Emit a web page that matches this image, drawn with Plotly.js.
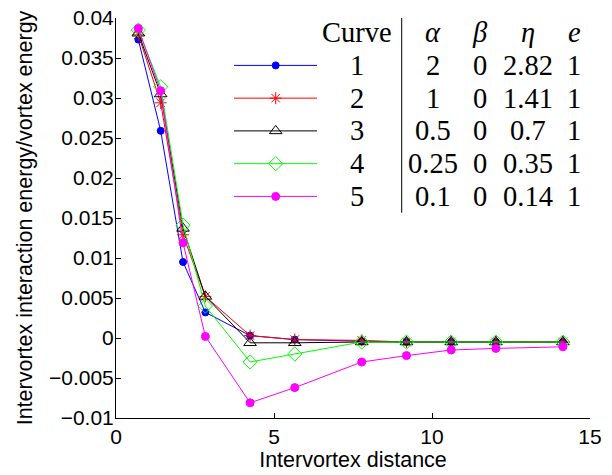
<!DOCTYPE html>
<html><head><meta charset="utf-8">
<script src="https://cdn.plot.ly/plotly-3.0.1.min.js"></script>
<style>html,body{margin:0;padding:0;background:#fff}#chart{width:612px;height:475px}</style>
</head><body><div id="chart"></div>
<script>
// ---- data ----
const distance = [0.707, 1.414, 2.121, 2.828, 4.243, 5.657, 7.778, 9.192, 10.607, 12.021, 14.142];
const curve1 = [0.0373, 0.0259, 0.0095, 0.0032, 0.0003, -0.0002, -0.0004, -0.0005, -0.0005, -0.0005, -0.0005];
const curve2 = [0.0379, 0.0294, 0.0129, 0.0052, 0.0003, -0.0002, -0.0003, -0.0005, -0.0005, -0.0005, -0.0005];
const curve3 = [0.0381, 0.0305, 0.0137, 0.0052, -0.0006, -0.0006, -0.0005, -0.0005, -0.0005, -0.0005, -0.0005];
const curve4 = [0.0385, 0.0314, 0.0141, 0.0040, -0.0030, -0.0020, -0.0005, -0.0005, -0.0005, -0.0005, -0.0005];
const curve5 = [0.0387, 0.0309, 0.0119, 0.0002, -0.0081, -0.0062, -0.0030, -0.0022, -0.0015, -0.0013, -0.0011];
const curveNames = ['1', '2', '3', '4', '5'];
const alphaVals = ['2', '1', '0.5', '0.25', '0.1'];
const betaVals = ['0', '0', '0', '0', '0'];
const etaVals = ['2.82', '1.41', '0.7', '0.35', '0.14'];
const eVals = ['1', '1', '1', '1', '1'];
const xTickVals = [0, 5, 10, 15];
const yTickVals = [-0.01, -0.005, 0, 0.005, 0.01, 0.015, 0.02, 0.025, 0.03, 0.035, 0.04];

// ---- styles ----
const series = [curve1, curve2, curve3, curve4, curve5];
const styles = [
  {color: '#0000ff', symbol: 'circle', size: 7},
  {color: '#ff0000', symbol: 'asterisk-open', size: 10},
  {color: '#000000', symbol: 'triangle-up-open', size: 11},
  {color: '#00ff00', symbol: 'diamond-open', size: 11},
  {color: '#ff00ff', symbol: 'circle', size: 8}
];

const sans = 'Liberation Sans, Arial, sans-serif';
const serif = 'Liberation Serif, Times New Roman, serif';

const traces = [];
series.forEach((ys, i) => {
  const s = styles[i];
  traces.push({
    x: distance, y: ys, type: 'scatter', mode: 'lines+markers',
    line: {color: s.color, width: 1},
    marker: {symbol: s.symbol, size: s.size, color: s.color, line: {color: s.color, width: 1}},
    showlegend: false, hoverinfo: 'skip'
  });
});

// legend / table in a pixel-coordinate overlay (x2/y2)
const rowY0 = 65.7, rowStep = 32.75, headerY = 33;
const legX0 = 234, legX1 = 317, legXm = 275.7;
const colX = {curve: 357, alpha: 433, beta: 480, eta: 528, e: 574};
series.forEach((ys, i) => {
  const s = styles[i];
  const yy = rowY0 + i * rowStep;
  traces.push({
    x: [legX0, legXm, legX1], y: [yy, yy, yy], xaxis: 'x2', yaxis: 'y2',
    type: 'scatter', mode: 'lines+markers',
    line: {color: s.color, width: 1},
    marker: {symbol: s.symbol, size: s.size, color: s.color, opacity: [0, 1, 0], line: {color: s.color, width: 1}},
    showlegend: false, hoverinfo: 'skip'
  });
});

const tfont = {family: serif, size: 28.5, color: '#000'};
const annotations = [];
function addText(text, x, y) {
  annotations.push({text: text, x: x, y: y, xref: 'x2', yref: 'y2', showarrow: false,
    xanchor: 'center', yanchor: 'middle', font: tfont});
}
addText('Curve', colX.curve, headerY);
addText('<i>α</i>', colX.alpha, headerY);
addText('<i>β</i>', colX.beta, headerY);
addText('<i>η</i>', colX.eta, headerY);
addText('<i>e</i>', colX.e, headerY);
curveNames.forEach((n, i) => {
  const yy = rowY0 + i * rowStep;
  addText(n, colX.curve, yy);
  addText(alphaVals[i], colX.alpha, yy);
  addText(betaVals[i], colX.beta, yy);
  addText(etaVals[i], colX.eta, yy);
  addText(eVals[i], colX.e, yy);
});

const layout = {
  width: 612, height: 475,
  margin: {l: 116, r: 22, t: 18, b: 57},
  paper_bgcolor: '#fff', plot_bgcolor: '#fff',
  showlegend: false,
  font: {family: sans, size: 21, color: '#000'},
  xaxis: {
    range: [0, 15], tickmode: 'array', tickvals: xTickVals,
    ticks: 'inside', ticklen: 5, tickwidth: 1, tickcolor: '#000',
    showline: true, linecolor: '#000', linewidth: 1, mirror: false,
    showgrid: false, zeroline: false,
    tickfont: {family: sans, size: 21, color: '#000'},
    title: {text: 'Intervortex distance', font: {family: sans, size: 21.5, color: '#000'}, standoff: 4}
  },
  yaxis: {
    range: [-0.01, 0.04], tickmode: 'array', tickvals: yTickVals,
    ticks: 'inside', ticklen: 5, tickwidth: 1, tickcolor: '#000',
    showline: true, linecolor: '#000', linewidth: 1, mirror: false,
    showgrid: false, zeroline: false, ticklabelstandoff: -3,
    tickfont: {family: sans, size: 21, color: '#000'},
    title: {text: 'Intervortex interaction energy/vortex energy', font: {family: sans, size: 21.5, color: '#000'}, standoff: 10}
  },
  xaxis2: {overlaying: 'x', range: [116, 590], visible: false, fixedrange: true},
  yaxis2: {overlaying: 'y', range: [418.3, 18.3], visible: false, fixedrange: true},
  annotations: annotations,
  shapes: [{type: 'line', xref: 'x2', yref: 'y2', x0: 401.7, x1: 401.7, y0: 17, y1: 213,
    line: {color: '#000', width: 1}}]
};

Plotly.newPlot('chart', traces, layout, {displayModeBar: false, staticPlot: true});
</script>
</body></html>
